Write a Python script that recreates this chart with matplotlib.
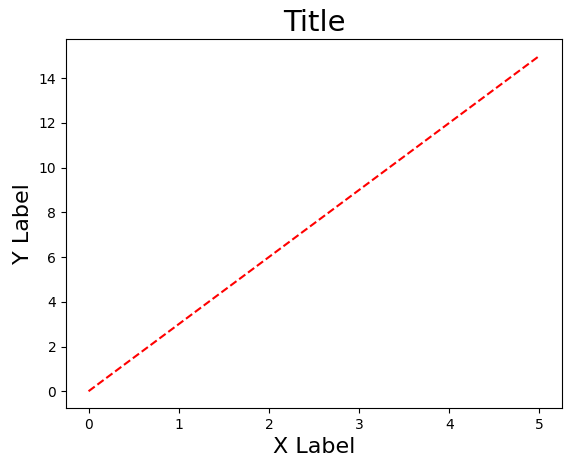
import matplotlib
matplotlib.use("Agg")
import matplotlib.pyplot as plt

x_values = [0, 1, 2, 3, 4, 5]
y_values = [0, 3, 6, 9, 12, 15]

fig = plt.figure(figsize=(5.71, 4.70), dpi=100)
ax = fig.add_axes([66/571, 1 - 408/470, (562-66)/571, (408-39)/470])
ax.plot(x_values, y_values, color="red", linestyle="--")
ax.set_title("Title", fontsize=21)
ax.set_xlabel("X Label", fontsize=16)
ax.set_ylabel("Y Label", fontsize=16)
fig.savefig("out.png", dpi=100)
